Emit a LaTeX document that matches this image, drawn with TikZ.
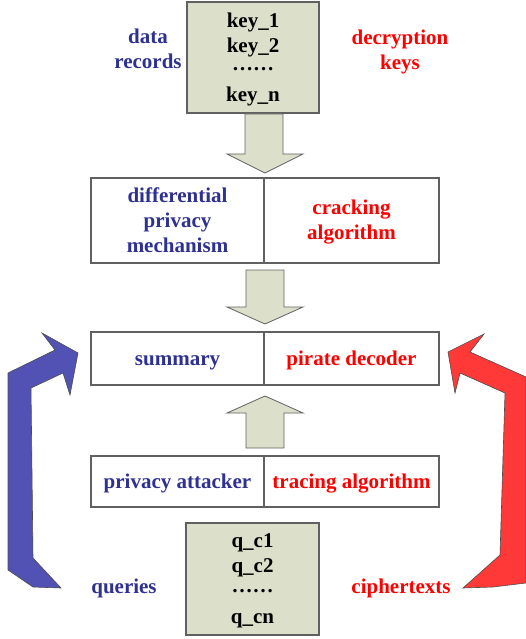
\documentclass[tikz,border=0pt]{standalone}
\usepackage{fontspec}
\setmainfont{Liberation Serif}
\usetikzlibrary{calc}
\definecolor{boxfill}{HTML}{DCDFC9}
\definecolor{boxline}{HTML}{606060}
\definecolor{txtblue}{HTML}{2E3192}
\definecolor{txtred}{HTML}{FF0000}
\definecolor{arrblue}{HTML}{5252B4}
\definecolor{arrred}{HTML}{FF3838}
\tikzset{
  lab/.style={font=\fontsize{21}{25}\selectfont\bfseries, inner sep=0pt, align=center},
  cell/.style={draw=boxline, line width=1.8pt, fill=white, inner sep=0pt},
  keybox/.style={draw=boxline, line width=1.8pt, fill=boxfill, inner sep=0pt},
  blockarrow/.style={draw=boxline, line width=0.8pt, fill=boxfill},
  bigblue/.style={draw=black!70, line width=0.6pt, fill=arrblue},
  bigred/.style={draw=black!70, line width=0.6pt, fill=arrred},
}
\begin{document}
\begin{tikzpicture}[x=1pt,y=-1pt]
\useasboundingbox (0,0) rectangle (525,639);
% top key box
\node[keybox, minimum width=132pt, minimum height=111pt] (keys) at (253,57.5) {};
\node[lab, anchor=base] (klist) at (253,102) {key\_1\\key\_2\\[-7pt]……\\[6pt]key\_n};
\node[lab, text=txtblue, anchor=base] (data) at (148,69) {data\\records};
\node[lab, text=txtred, anchor=base] (dec) at (400,70) {decryption\\keys};
% row 1
\node[cell, minimum width=173pt, minimum height=85pt] (dp) at (177.5,220.5) {};
\node[cell, minimum width=175pt, minimum height=85pt] (crack) at (351.5,220.5) {};
\node[lab, text=txtblue, anchor=base] (dpt) at (177.5,252) {differential\\privacy\\mechanism};
\node[lab, text=txtred, anchor=base] (crt) at (351.5,239) {cracking\\algorithm};
% row 2
\node[cell, minimum width=173pt, minimum height=53pt] (sum) at (177.5,358.5) {};
\node[cell, minimum width=175pt, minimum height=53pt] (pir) at (351.5,358.5) {};
\node[lab, text=txtblue, anchor=base] (sumt) at (177.5,365) {summary};
\node[lab, text=txtred, anchor=base] (pirt) at (351.5,365) {pirate decoder};
% row 3
\node[cell, minimum width=173pt, minimum height=51pt] (att) at (177.5,481.5) {};
\node[cell, minimum width=175pt, minimum height=51pt] (tra) at (351.5,481.5) {};
\node[lab, text=txtblue, anchor=base] (attt) at (177.5,488) {privacy attacker};
\node[lab, text=txtred, anchor=base] (trat) at (351.5,488) {tracing algorithm};
% bottom q box
\node[keybox, minimum width=133pt, minimum height=112pt] (qbox) at (252.5,579) {};
\node[lab, anchor=base] (qlist) at (252.5,623) {q\_c1\\q\_c2\\[-5pt]……\\[6pt]q\_cn};
\node[lab, text=txtblue, anchor=base] (que) at (124,593) {queries};
\node[lab, text=txtred, anchor=base] (cip) at (401,593) {ciphertexts};
% block arrows
\draw[blockarrow] (245,114) -- (283,114) -- (283,154) -- (303,154) -- (265,173) -- (227,154) -- (245,154) -- cycle;
\draw[blockarrow] (246,270) -- (284,270) -- (284,307) -- (303,307) -- (265,324) -- (227,307) -- (246,307) -- cycle;
\draw[blockarrow] (246,448) -- (284,448) -- (284,413) -- (303,413) -- (265,396) -- (227,413) -- (246,413) -- cycle;
% big curved arrows
\draw[bigblue] (78,353) -- (42,333) -- (55,350) -- (8,373) -- (8,570) -- (33,587) -- (61,588) -- (33,558) -- (31,388) -- (63,373) -- (70,395) -- cycle;
\draw[bigred] (448,352) -- (484,334) -- (470,352) -- (526,377) -- (526,583) -- (493,587) -- (463,588) -- (500,555) -- (505,393) -- (460,373) -- (455,393) -- cycle;
\end{tikzpicture}
\end{document}
